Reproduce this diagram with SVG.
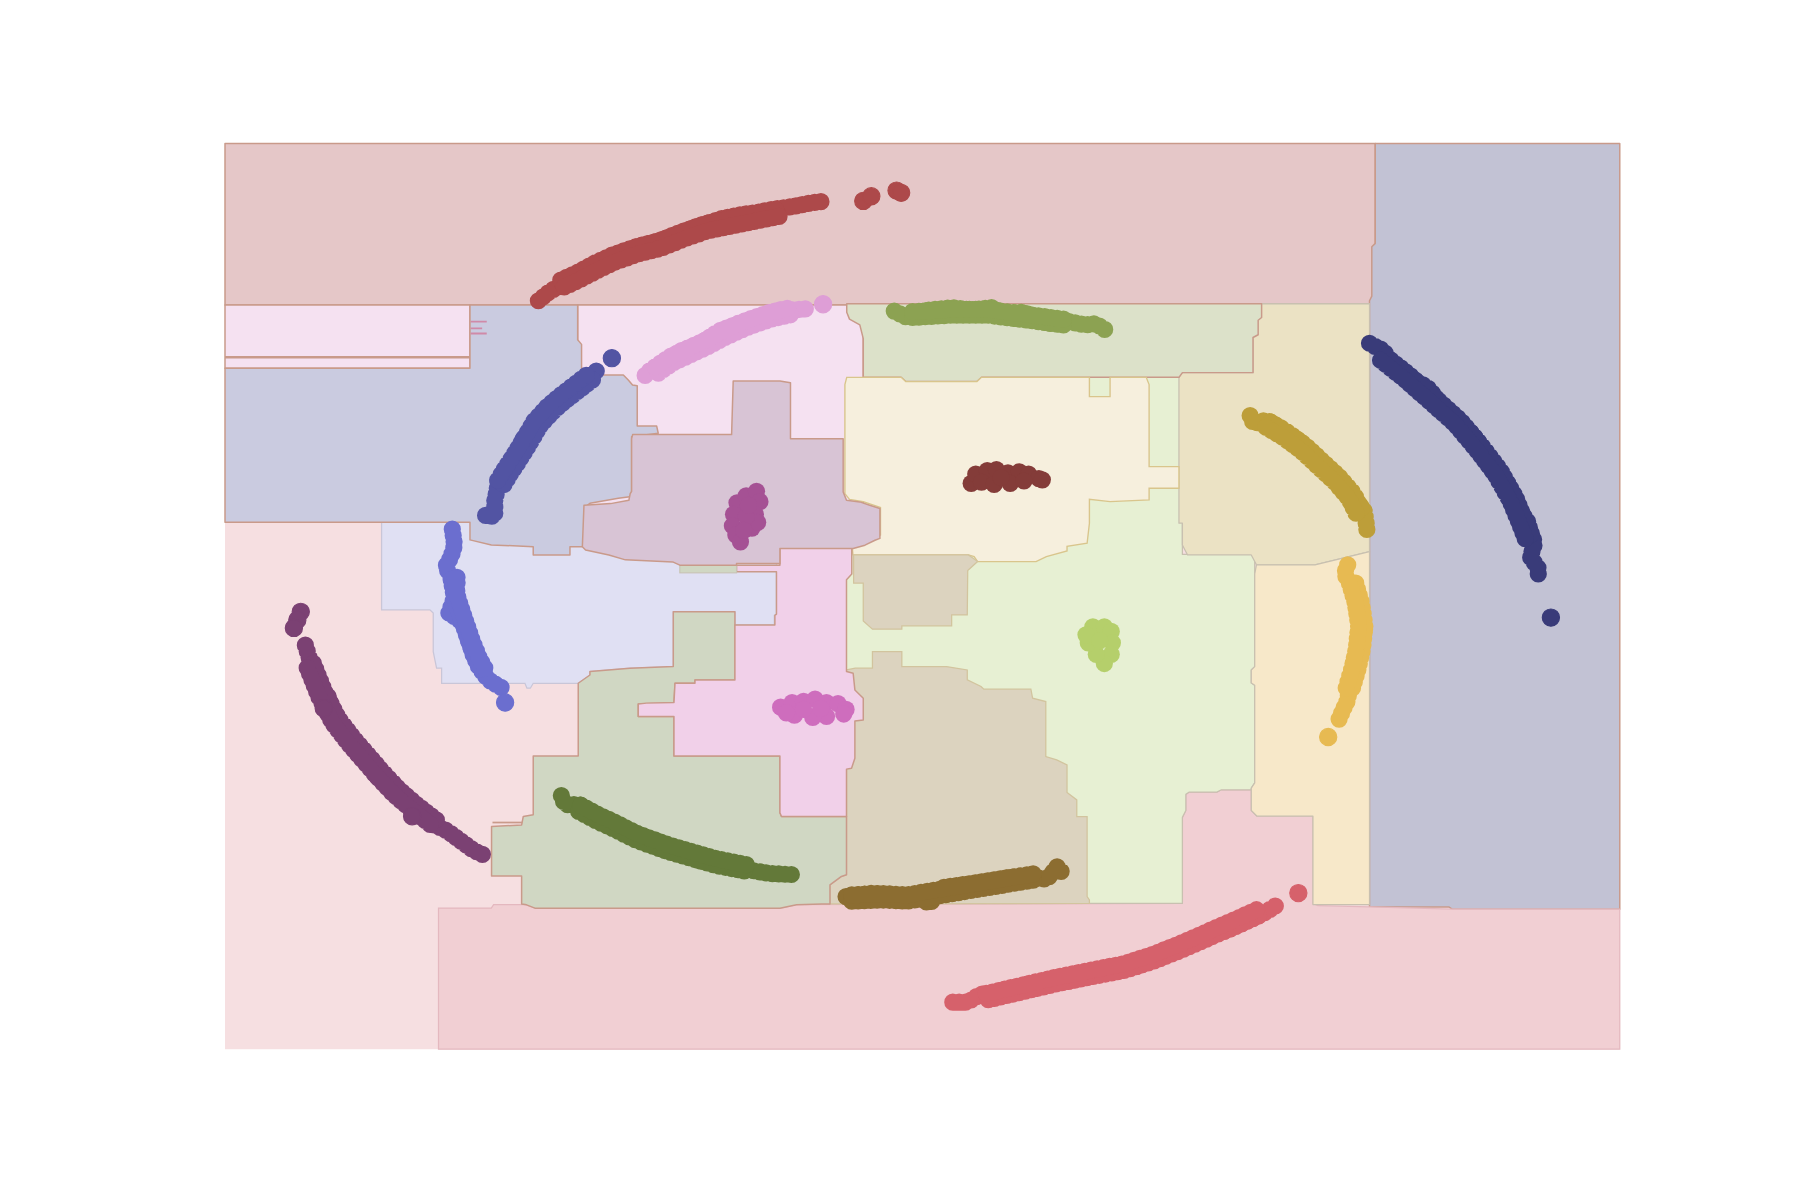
<svg xmlns="http://www.w3.org/2000/svg" xmlns:xlink="http://www.w3.org/1999/xlink" width="1800" height="1200" viewBox="0 0 1800 1200">
<style>
.b{stroke:#c99a8a;stroke-width:1.3;stroke-linejoin:round}
.bl{stroke:#c8c0b0;stroke-width:1.1;stroke-linejoin:round}
.d{fill:none;stroke-width:15;stroke-linecap:round;stroke-linejoin:round;stroke-dasharray:0 5.5}
.tick{fill:none;stroke:#d08aa8;stroke-width:1.6}
</style>
<rect x="0" y="0" width="1800" height="1200" fill="#ffffff"/>
<g id="plot" transform="scale(1.147959)">
<g id="regions">
<rect x="196" y="125" width="1215" height="789" fill="#f6dfe1"/>
<rect x="196" y="125" width="1002" height="140.7" fill="#e5c7c8" class="b"/>
<polygon fill="#c2c2d4" class="b" points="1198,125 1411,125 1411,792 1265,792 1262,790 1193,790 1193,262 1195,258 1195,215 1198,212"/>
<polygon fill="#f1cfd3" stroke="#e4b8bf" stroke-width="1.1" points="382,914 382,791 428,791 430,788 458,788 466,791 680,791 694,788 1030,787 1030,712 1033,706 1033,692 1036,690 1060,690 1064,688 1090,688 1090,706 1095,711 1143.7,711 1143.7,787 1148,789 1193,790 1265,792 1411,792 1411,914"/>
<polygon fill="#e7f0d3" class="bl" points="737,328.7 1030,328.7 1030,483 1093,483 1093,580.7 1090,583.6 1090,595 1093,597 1093,682 1090,686.6 1090,688 1064,688 1060,690 1036,690 1033,692 1033,706 1030,712 1030,787 737,787"/>
<polygon fill="#ebe2c4" class="bl" points="1091.5,264.6 1193,264.6 1193,480.5 1163.5,487.7 1145.5,492 1094.5,492 1090,483.4 1034.5,483.4 1030,474.7 1030,455.8 1027,455.8 1027,328.7 1030,324.6 1091.5,324.6"/>
<polygon fill="#f7e8c9" class="bl" points="1094.5,492 1145.5,492 1163.5,487.7 1193,480.5 1193,788 1143.7,788 1143.7,711 1095,711 1090,706 1090,686.6 1093,682 1093,597 1090,595 1090,583.6 1093,580.7 1093,500"/>
<rect x="196" y="265.7" width="213.4" height="55" fill="#f5e1f1" class="b"/>
<line x1="196" y1="311.2" x2="409.4" y2="311.2" stroke="#c99a8a" stroke-width="2.2"/>
<rect x="503.2" y="265.7" width="248.8" height="175" fill="#f5e1f1" class="b"/>
<polygon fill="#dce1c9" class="b" points="737.6,264.6 1099,264.6 1099,276.6 1096,279 1096,291.6 1091.5,294 1091.5,324.6 1030,324.6 1027,328.7 967,328.7 949,328.7 855,328.7 851,332.4 789,332.4 785,328.7 752,328.7 752,295 749,283 740,278 737.6,272"/>
<polygon fill="#f6efdd" stroke="#d9c58c" stroke-width="1.2" points="737.6,328.7 785,328.7 789,332.4 851,332.4 855,328.7 949,328.7 949,345.5 967,345.5 967,328.7 998.5,328.7 1001,335 1001,406.5 1027,406.5 1027,425.3 1001,425.3 1001,435.5 967,437 949,434.9 949,455.8 947,473.2 929.5,476 929.5,480 911.5,484.8 902.5,489.2 851.6,489.2 848.6,484.8 843.6,483.4 743,483.4 742,472 755,470 767,466 767,442 752,437 740,435 736,430 736,335"/>
<polygon fill="#dcd3bf" stroke="#d2c49e" stroke-width="1.1" points="743.6,483.4 843.6,483.4 848.6,487 851.6,489.2 843,497 842.6,535.7 829,535.7 829,545.2 785.6,545.2 785.6,548.1 760,548.1 752,541 752,508 743.6,508"/>
<polygon fill="#dcd3bf" stroke="#d2c49e" stroke-width="1.1" points="737.4,583.6 745,582.1 760,582.1 760,567.6 785.6,567.6 785.6,580.7 824.6,580.7 842.6,583.6 842.6,592.3 854.6,598 857,600.4 898,600.4 899.5,608.2 911,611.1 911,659 920.5,662 929.5,666.3 929.5,690.4 938,696.8 938,711.3 947,711.3 947,781 949,784 949,787 723,787.4 723,770.8 733,763.5 737.4,762"/>
<polygon fill="#e0e0f3" stroke="#c9c6d8" stroke-width="1.1" points="332.4,440 676.4,440 676.4,535 674.5,536 674.5,544.4 640.2,544.4 640.2,532.8 586.5,532.8 586.5,580.7 548.7,582.1 513.9,585 513.9,588 503.7,595.2 464.5,595.2 462,599.5 459,599.5 457.3,595.2 384.7,595.2 384.7,582 380.3,582.1 377.4,567.6 377.4,534 374.5,531.3 332.4,531.3"/>
<polygon fill="#d0d7c3" class="b" points="503.7,595.2 503.7,658.5 464.5,658.5 464.5,709.8 455.8,711.3 454.4,718.6 428.2,720 428.2,763 454.4,763 454.4,787.4 458.7,788.2 466,791.1 679.4,791.1 693.9,788.2 715.7,787.4 723,787.4 723,770.8 733,763.5 737.4,762 737.4,711.3 680.8,711.3 679.4,708 679.4,658.5 587.1,658.5 587.1,624.2 556,624.2 556,613.2 587.1,612 588,595.2 605.4,595.2 605.4,592.3 640.2,592.3 640.2,532.8 586.5,532.8 586.5,580.7 548.7,582.1 513.9,585 513.9,588"/>
<line x1="429" y1="716.5" x2="455" y2="716.5" stroke="#c99a8a" stroke-width="1.5"/>
<polygon fill="#f1d0e9" class="b" points="641.6,492.3 679.4,492.3 679.4,474.9 742,474.9 742,500 737.4,505 737.4,585 743.2,586.5 744.7,601 752,608.2 752,627.1 744.7,628 744.7,660.5 741.8,669.2 737.4,670 737.4,711.3 680.8,711.3 679.4,708 679.4,658.5 587.1,658.5 587.1,624.2 556,624.2 556,613.2 563,612.5 587.1,612 588,595.2 605.4,595.2 605.4,592.3 640.2,592.3 640.2,544.4 675,544.4 675,536 676.4,535 676.4,498 641.6,498"/>
<rect x="592.2" y="490" width="49.4" height="9" fill="#d0d7c3" stroke="#c8c4b4" stroke-width="1"/>
<polygon fill="#cacbe0" class="b" points="196,320.8 409.4,320.8 409.4,265.7 503.2,265.7 503.2,296 506.6,300 506.6,320.8 524,326.6 543,326.6 547.3,331 551,335.3 555.1,336 555.1,371 572,371 573.4,377.4 550.2,380.4 550.2,432.6 538.6,434 513.9,438.4 511.9,440 511.9,473.2 507,476.2 496.5,476.2 496.5,483.4 464.5,483.4 464.5,476.2 428,474.7 409.4,470.3 409.4,455 196,455"/>
<polygon fill="#d8c4d5" class="b" points="550.2,382.1 551.1,378.6 637.3,378.6 638.7,331.9 679.4,331.9 688.6,333.4 688.6,382.1 734.5,382.1 734.5,428.5 737.4,435.8 749,437.2 757.6,440.1 766.5,443 766.5,469 762.2,470.6 753.5,474.9 743.2,477.8 679.4,477.8 679.4,490.9 641.6,490.9 641.6,492.3 592.2,492.3 586,489.5 544.8,487.7 530.4,483.4 510.1,479.1 507.3,476.2 508.7,440.1 531.9,438.7 547.8,435.8 549,429.9 550.2,428"/>
<path class="tick" d="M410,280.2 H424 M410,286 H420 M410,290.5 H424"/>
</g>
<g id="points">
<g stroke="#ad494a" fill="#ad494a">
<path id="pRed" class="d" d="M469,262 L480,253 L495,246 L510,236 L525,229 L540,221 L555,215 L570,211 L585,206 L600,200 L615,195 L630,190 L645,187 L660,185 L675,182 L690,180 L705,177 L720,175"/>
<path id="pRed2" class="d" d="M490,247 L505,240 L520,232 L535,225 L555,218 L575,213 L595,205 L615,198 L640,193 L660,189 L680,185"/>
<use xlink:href="#pRed2" transform="translate(-1.5,-3)"/>
<use xlink:href="#pRed2" transform="translate(1.5,3)"/>
<circle cx="752" cy="175" r="7.5"/><circle cx="759" cy="171" r="7.5"/><circle cx="781" cy="166" r="7.5"/><circle cx="785" cy="168" r="7.5"/>
</g>
<g stroke="#de9ed6" fill="#de9ed6">
<path class="d" d="M562,327 L567,322 L578,316 L592,306 L610,299 L627,288 L645,281 L660,277 L679,270 L690,270 L703,269"/>
<path id="pPlum2" class="d" d="M572,322 L585,313 L598,307 L615,299 L632,290 L650,282 L670,275 L688,271"/>
<use xlink:href="#pPlum2" transform="translate(1.5,3)"/>
<use xlink:href="#pPlum2" transform="translate(-1.2,-2.5)"/>
<circle cx="717" cy="265" r="7.5"/>
</g>
<g stroke="#5254a3" fill="#5254a3">
<path class="d" d="M423,449 L431,450 L431,436 L433,427 L434,418 L440,410 L446,403 L451,392 L457,380 L466,372 L475,357 L486,348 L495,340 L509,331 L521,322"/>
<path id="pBlue2" class="d" d="M436,420 L442,410 L450,398 L458,385 L468,368 L480,355 L492,345 L505,335 L514,328"/>
<use xlink:href="#pBlue2" transform="translate(3,2.2)"/>
<use xlink:href="#pBlue2" transform="translate(-2.4,-1.8)"/>
<circle cx="533" cy="312" r="7.5"/>
</g>
<g stroke="#6b6ecf" fill="#6b6ecf">
<path class="d" d="M394,461 L396,475 L393,485 L388,494 L393,502 L399,503 L396,520 L391,534 L400,540 L405,546 L408,557 L412,570 L417,581 L423,589 L428,594 L437,599"/>
<path id="pLb2" class="d" d="M393,505 L396,522 L402,540 L408,558 L414,573 L421,586"/>
<use xlink:href="#pLb2" transform="translate(3,-1)"/>
<circle cx="440" cy="612" r="7.5"/>
</g>
<g stroke="#7b4173" fill="#7b4173">
<path class="d" d="M266,562 L270,575 L276,588 L280,600 L287,608 L290,624 L300,640 L310,652 L320,664 L328,676 L340,686 L352,698 L362,706 L375,717 L390,724 L402,733 L413,741 L422,745"/>
<path id="pPur2" class="d" d="M270,580 L280,605 L292,628 L305,645 L318,660 L330,674 L345,690 L360,703 L378,717"/>
<use xlink:href="#pPur2" transform="translate(3,-2.2)"/>
<use xlink:href="#pPur2" transform="translate(-2.4,1.8)"/>
<circle cx="262" cy="533" r="7.5"/><circle cx="259" cy="540" r="7.5"/><circle cx="256" cy="547" r="7.5"/><circle cx="359" cy="711" r="7.5"/><circle cx="282" cy="617" r="7.5"/>
</g>
<g stroke="#637939" fill="#637939">
<path class="d" d="M489,693 L492,701 L505,701 L519,713 L530,714 L544,725 L556,731 L578,740 L601,746 L607,749 L636,755 L671,761 L694,762"/>
<path id="pOd2" class="d" d="M505,704 L520,712 L535,719 L555,729 L580,738 L600,744 L625,751 L650,756"/>
<use xlink:href="#pOd2" transform="translate(-0.9,2.9)"/>
<use xlink:href="#pOd2" transform="translate(0.9,-2.6)"/>
</g>
<g stroke="#8c6d31" fill="#8c6d31">
<path class="d" d="M737,781 L752,779 L762,778 L780,781 L797,781 L810,787 L822,773 L850,769 L868,766 L882,764 L900,764 L912,766 L921,755 L926,761"/>
<path id="pBr2" class="d" d="M742,782 L770,781 L790,782 L820,777 L850,772 L880,767 L905,763"/>
<use xlink:href="#pBr2" transform="translate(0,3)"/>
<use xlink:href="#pBr2" transform="translate(0,-2.5)"/>
</g>
<g stroke="#d6616b" fill="#d6616b">
<path class="d" d="M830,873 L843,873 L854,866 L872,866 L890,862 L910,856 L930,855 L950,850 L970,846 L990,842 L1005,836 L1020,830 L1040,822 L1055,815 L1070,810 L1085,803 L1100,796 L1110,790 L1115,786"/>
<path id="pCo2" class="d" d="M860,868 L890,861 L920,854 L950,848 L980,842 L1005,834 L1030,824 L1055,813 L1080,802 L1100,793"/>
<use xlink:href="#pCo2" transform="translate(0.9,2.9)"/>
<use xlink:href="#pCo2" transform="translate(-0.9,-2.6)"/>
<circle cx="1131" cy="778" r="7.5"/>
</g>
<g stroke="#e7ba52" fill="#e7ba52">
<path class="d" d="M1174,492 L1171,500 L1178,510 L1182,520 L1184,534 L1189,549 L1185,560 L1182,570 L1181,585 L1176,595 L1174,610 L1170,618 L1165,630"/>
<path id="pYe2" class="d" d="M1178,508 L1183,525 L1186,545 L1184,565 L1180,583 L1175,600"/>
<use xlink:href="#pYe2" transform="translate(3,0)"/>
<use xlink:href="#pYe2" transform="translate(-2.5,0)"/>
<circle cx="1157" cy="642" r="7.5"/>
</g>
<g stroke="#bd9e39" fill="#bd9e39">
<path class="d" d="M1089,362 L1092,369 L1103,366 L1115,372 L1120,378 L1131,383 L1140,392 L1146,398 L1157,409 L1167,418 L1178,430 L1182,438 L1188,443 L1190,455 L1191,464"/>
<path id="pGo2" class="d" d="M1105,370 L1120,379 L1135,390 L1150,404 L1165,418 L1177,432 L1185,448"/>
<use xlink:href="#pGo2" transform="translate(2.2,-2.2)"/>
<use xlink:href="#pGo2" transform="translate(-2.2,2.2)"/>
</g>
<g stroke="#393b79" fill="#393b79">
<path class="d" d="M1193,299 L1200,303 L1205,305 L1213,318 L1222,324 L1235,333 L1243,337 L1250,345 L1256,355 L1265,362 L1272,372 L1280,375 L1288,385 L1293,398 L1300,405 L1308,415 L1312,425 L1318,435 L1322,445 L1330,452 L1333,462 L1337,473 L1333,485 L1340,495 L1340,505"/>
<path id="pNv2" class="d" d="M1205,312 L1225,328 L1250,350 L1270,368 L1290,392 L1305,412 L1318,435 L1325,452 L1332,470"/>
<use xlink:href="#pNv2" transform="translate(2.4,-1.8)"/>
<use xlink:href="#pNv2" transform="translate(-2.4,1.8)"/>
<circle cx="1351" cy="538" r="7.5"/>
</g>
<g stroke="#8ca252" fill="#8ca252">
<path class="d" d="M779,271 L791,277 L800,272 L810,270 L830,268 L845,270 L864,268 L876,274 L890,272 L900,275 L912,282 L930,280 L945,283 L955,282 L962,287 L966,286"/>
<path id="pOl2" class="d" d="M795,274 L830,272 L860,272 L900,277 L930,281"/>
<use xlink:href="#pOl2" transform="translate(0,2.5)"/>
<use xlink:href="#pOl2" transform="translate(0,-2.5)"/>
</g>
<g fill="#843c39">
<circle cx="846" cy="421" r="7.5"/><circle cx="850" cy="413" r="7.5"/><circle cx="860" cy="410" r="7.5"/><circle cx="868" cy="409" r="7.5"/><circle cx="878" cy="412" r="7.5"/><circle cx="888" cy="411" r="7.5"/><circle cx="896" cy="413" r="7.5"/><circle cx="905" cy="417" r="7.5"/><circle cx="908" cy="418" r="7.5"/><circle cx="855" cy="420" r="7.5"/><circle cx="866" cy="422" r="7.5"/><circle cx="880" cy="421" r="7.5"/><circle cx="892" cy="419" r="7.5"/><circle cx="872" cy="416" r="7.5"/>
</g>
<g fill="#a55194">
<circle cx="642" cy="438" r="7.5"/><circle cx="650" cy="432" r="7.5"/><circle cx="659" cy="428" r="7.5"/><circle cx="662" cy="437" r="7.5"/><circle cx="658" cy="448" r="7.5"/><circle cx="639" cy="448" r="7.5"/><circle cx="638" cy="458" r="7.5"/><circle cx="641" cy="466" r="7.5"/><circle cx="645" cy="472" r="7.5"/><circle cx="655" cy="460" r="7.5"/><circle cx="660" cy="455" r="7.5"/><circle cx="650" cy="450" r="7.5"/><circle cx="648" cy="462" r="7.5"/><circle cx="652" cy="440" r="7.5"/>
</g>
<g fill="#ce6dbd">
<circle cx="680" cy="616" r="7.5"/><circle cx="690" cy="612" r="7.5"/><circle cx="700" cy="611" r="7.5"/><circle cx="710" cy="609" r="7.5"/><circle cx="720" cy="612" r="7.5"/><circle cx="730" cy="613" r="7.5"/><circle cx="737" cy="618" r="7.5"/><circle cx="735" cy="622" r="7.5"/><circle cx="720" cy="624" r="7.5"/><circle cx="708" cy="625" r="7.5"/><circle cx="692" cy="623" r="7.5"/><circle cx="685" cy="621" r="7.5"/><circle cx="700" cy="618" r="7.5"/><circle cx="715" cy="617" r="7.5"/>
</g>
<g fill="#b5cf6b">
<circle cx="952" cy="546" r="7.5"/><circle cx="962" cy="546" r="7.5"/><circle cx="968" cy="550" r="7.5"/><circle cx="969" cy="560" r="7.5"/><circle cx="968" cy="570" r="7.5"/><circle cx="962" cy="578" r="7.5"/><circle cx="955" cy="570" r="7.5"/><circle cx="948" cy="560" r="7.5"/><circle cx="946" cy="553" r="7.5"/><circle cx="958" cy="558" r="7.5"/>
</g>
</g>
</g>
</svg>
